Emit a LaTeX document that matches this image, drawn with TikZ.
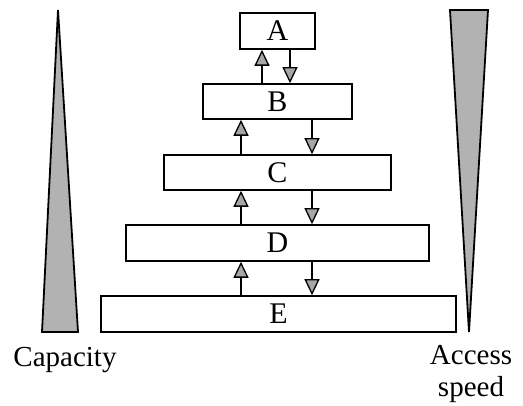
\documentclass[tikz,border=0pt]{standalone}
\usepackage{fontspec}
\setmainfont{Liberation Serif}
\usetikzlibrary{arrows.meta}
\begin{document}
\begin{tikzpicture}[x=1pt,y=-1pt,
  lvl/.style={draw=black,line width=1.6pt,fill=white,inner sep=0pt,font=\fontsize{30}{34}\selectfont},
  wedge/.style={draw=black,line width=1.8pt,fill=gray!60,line join=miter},
  link/.style={draw=black,line width=1.6pt,-{Triangle[width=15pt,length=16pt,fill=gray!70,line width=1.3pt]}},
  lbl/.style={font=\fontsize{29}{34}\selectfont,inner sep=0pt,align=center}]
\useasboundingbox (0,0) rectangle (523,406);
\node[lvl,minimum width=75pt,minimum height=36pt] (A) at (277.5,31) {A};
\node[lvl,minimum width=149pt,minimum height=35pt] (B) at (277.5,101.5) {B};
\node[lvl,minimum width=227pt,minimum height=35pt] (C) at (277.5,172.5) {C};
\node[lvl,minimum width=303pt,minimum height=36pt] (D) at (277.5,243) {D};
\node[lvl,minimum width=355pt,minimum height=36pt] (E) at (278.5,314) {E};
\coordinate (u1) at (262,0);
\coordinate (d1) at (290,0);
\coordinate (u2) at (241,0);
\coordinate (d2) at (312,0);
\draw[link] (B.north -| u1) -- (A.south -| u1);
\draw[link] (A.south -| d1) -- (B.north -| d1);
\draw[link] (C.north -| u2) -- (B.south -| u2);
\draw[link] (B.south -| d2) -- (C.north -| d2);
\draw[link] (D.north -| u2) -- (C.south -| u2);
\draw[link] (C.south -| d2) -- (D.north -| d2);
\draw[link] (E.north -| u2) -- (D.south -| u2);
\draw[link] (D.south -| d2) -- (E.north -| d2);
\draw[wedge] (58,10) -- (78,332) -- (42,332) -- cycle;
\draw[wedge] (450,10) -- (488,10) -- (469,332) -- cycle;
\node[lbl,anchor=base] (cap) at (65,367) {Capacity};
\node[lbl,anchor=base] (acc) at (471,365) {Access};
\node[lbl,anchor=base] (spd) at (471,397) {speed};
\end{tikzpicture}
\end{document}
